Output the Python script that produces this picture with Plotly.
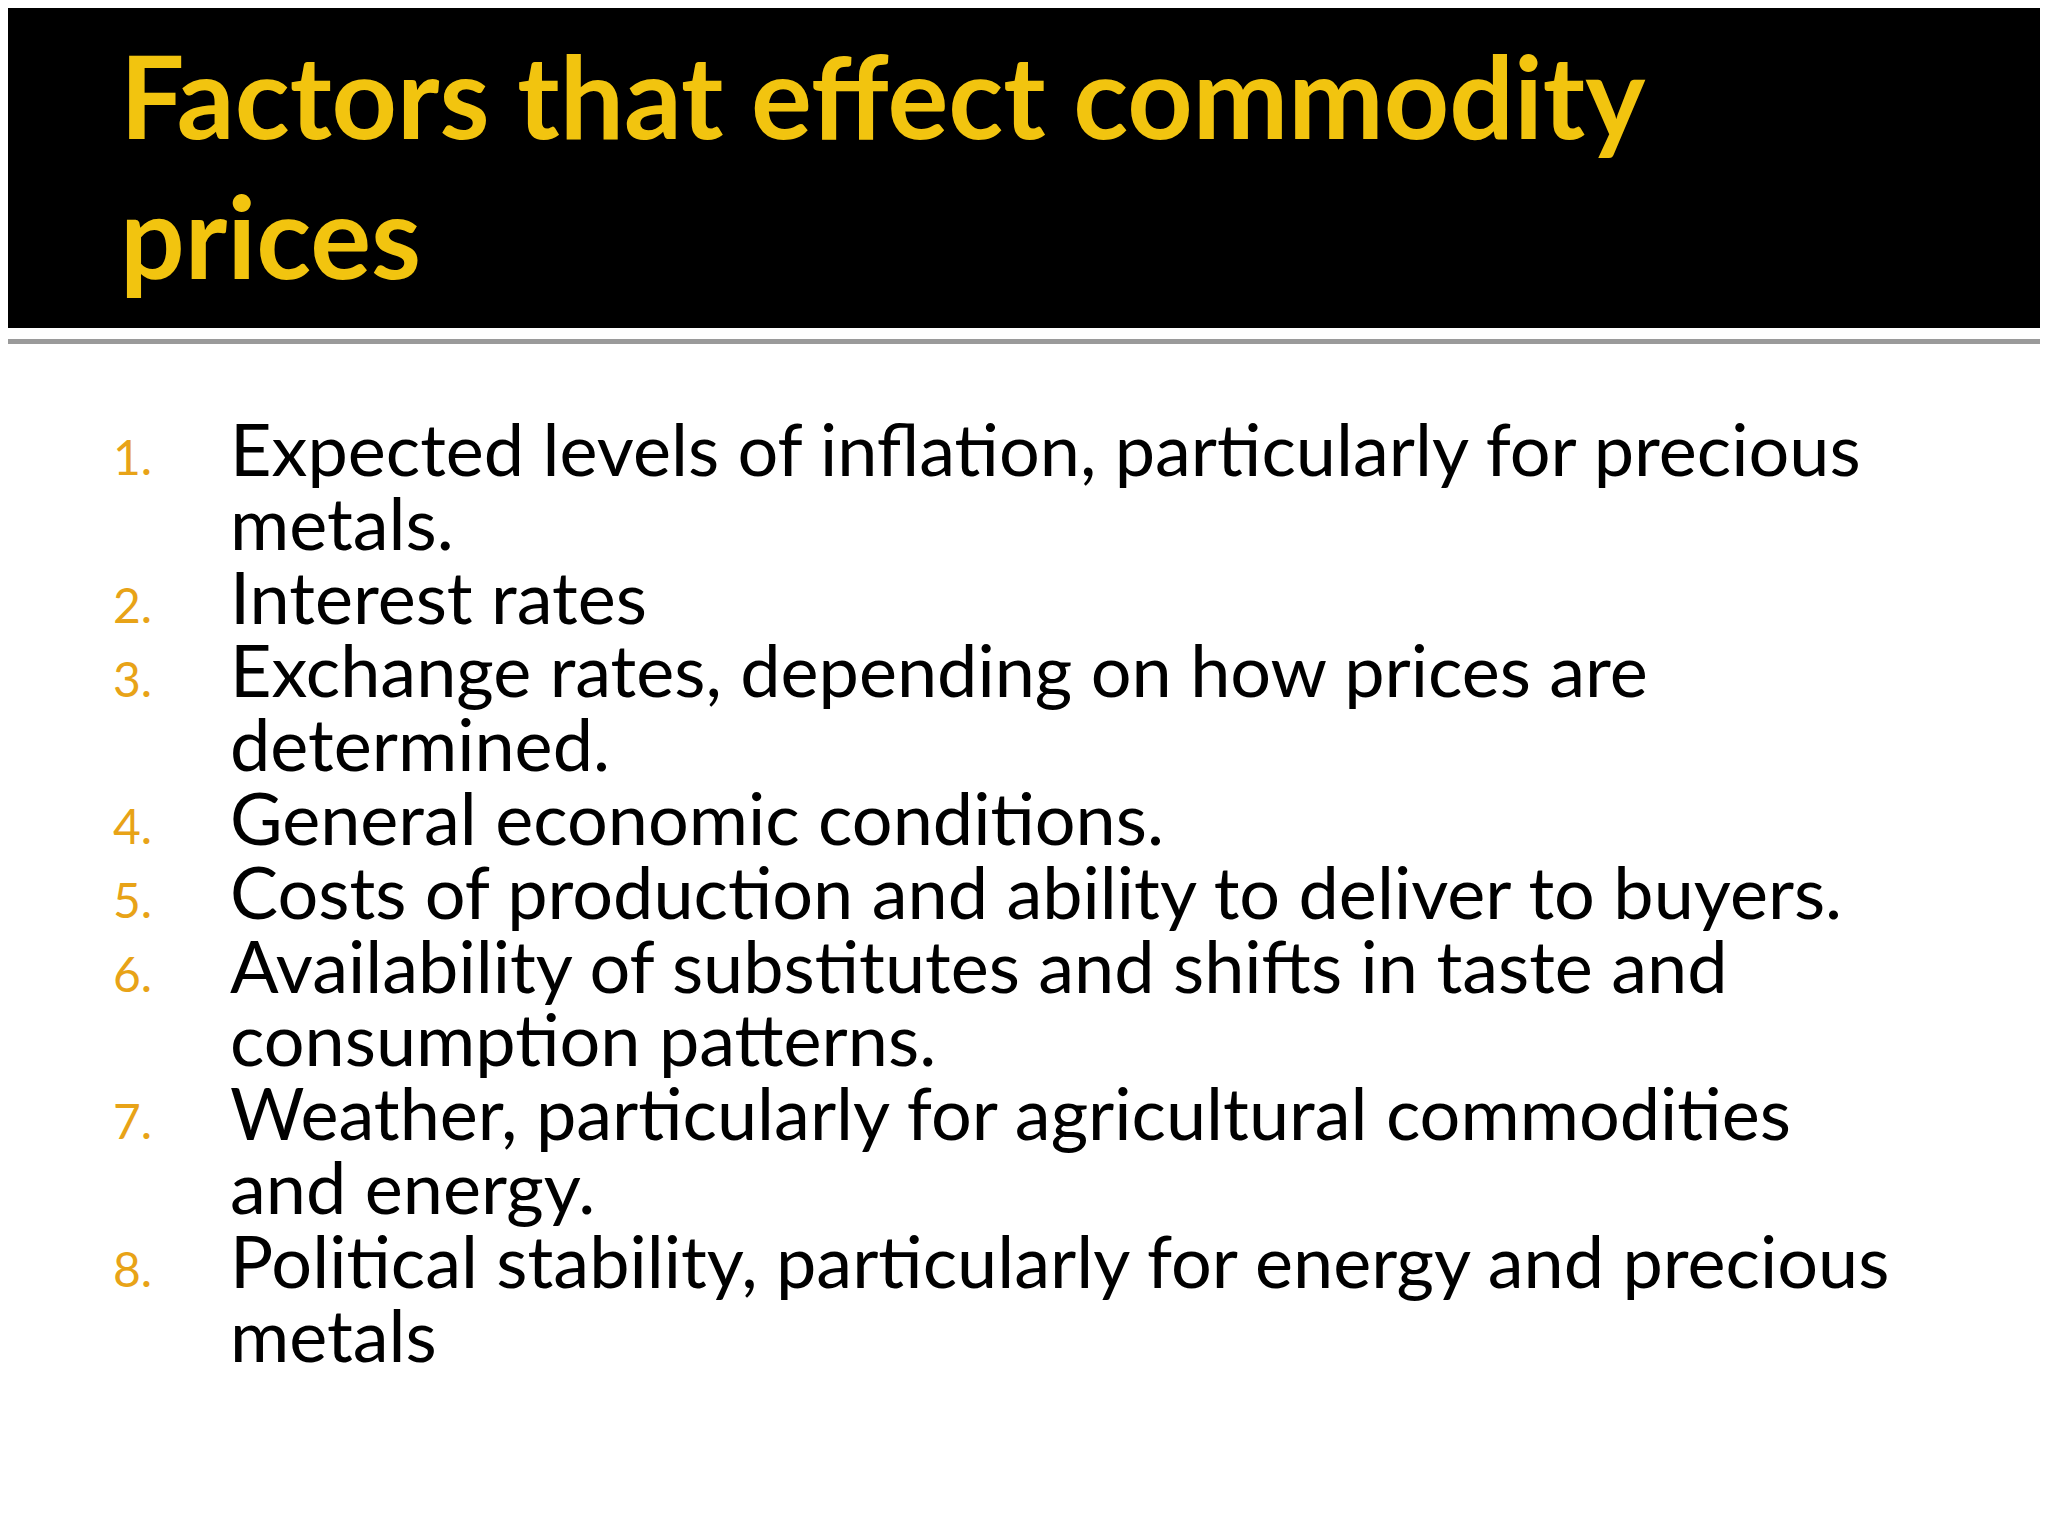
import plotly.graph_objects as go

W, H = 2048, 1536

title_lines = ["Factors that effect commodity", "prices"]
numbers = ["1.", "2.", "3.", "4.", "5.", "6.", "7.", "8."]
items = [
    ["Expected levels of inflation, particularly for precious", "metals."],
    ["Interest rates"],
    ["Exchange rates, depending on how prices are", "determined."],
    ["General economic conditions."],
    ["Costs of production and ability to deliver to buyers."],
    ["Availability of substitutes and shifts in taste and", "consumption patterns."],
    ["Weather, particularly for agricultural commodities", "and energy."],
    ["Political stability, particularly for energy and precious", "metals"],
]

fig = go.Figure()

# header band and rule
fig.add_shape(type="rect", xref="paper", yref="paper", x0=0, x1=1,
              y0=1 - 320 / H, y1=1, fillcolor="black", line_width=0, layer="below")
fig.add_shape(type="rect", xref="paper", yref="paper", x0=0, x1=1,
              y0=1 - 336 / H, y1=1 - 331 / H, fillcolor="#9a9a9a", line_width=0)

def ypos(baseline, size):
    return 1 - (baseline - 0.36 * size) / H

for t, base in zip(title_lines, [128, 268]):
    fig.add_annotation(text=f"<b>{t}</b>", x=110 / W, y=ypos(base, 114), xref="paper", yref="paper",
                       xanchor="left", yanchor="middle", showarrow=False,
                       font=dict(family="Lato", size=114, color="#F2C40F"))

line = 0
step = 73.8
first = 466
for num, wrapped in zip(numbers, items):
    b = first + line * step
    fig.add_annotation(text=num, x=103 / W, y=ypos(b, 48), xref="paper", yref="paper",
                       xanchor="left", yanchor="middle", showarrow=False,
                       font=dict(family="Lato", size=48, color="#E8A317"))
    for txt in wrapped:
        b = first + line * step
        fig.add_annotation(text=txt, x=220 / W, y=ypos(b, 72), xref="paper", yref="paper",
                           xanchor="left", yanchor="middle", showarrow=False,
                           font=dict(family="Lato", size=72, color="black"))
        line += 1

fig.update_layout(width=W, height=H, margin=dict(l=0, r=0, t=0, b=0),
                  paper_bgcolor="white", plot_bgcolor="white",
                  xaxis=dict(visible=False), yaxis=dict(visible=False), showlegend=False)
fig.write_html("out.html")
